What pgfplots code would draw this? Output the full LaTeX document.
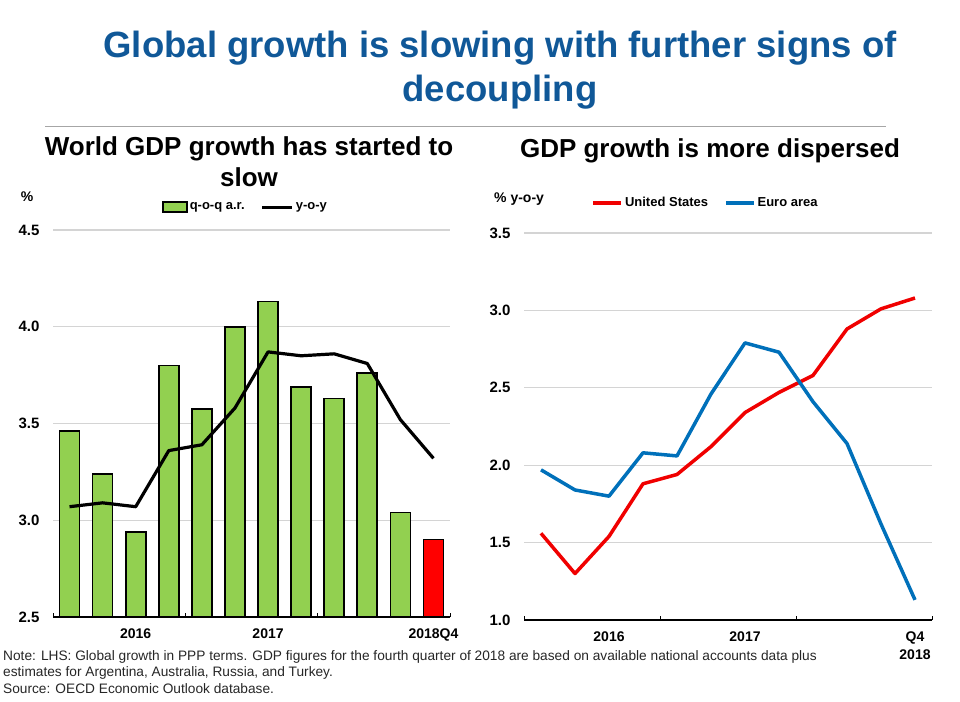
\documentclass[border=0pt]{standalone}
\usepackage{fontspec}
\setmainfont{Liberation Sans}
\usepackage{pgfplots}
\pgfplotsset{compat=1.18}
\definecolor{titleblue}{RGB}{16,88,152}
\definecolor{bargreen}{RGB}{146,208,80}
\definecolor{usred}{RGB}{240,0,0}
\definecolor{eublue}{RGB}{0,112,186}
\definecolor{gridgray}{RGB}{212,212,212}
\pgfplotsset{
  oecd/.style={
    scale only axis,
    height=387pt,
    xmin=0.5, xmax=12.5,
    axis lines*=left,
    y axis line style={draw=none},
    x axis line style={black, line width=1.2pt},
    ytick style={draw=none},
    xtick style={black, line width=1pt},
    tick align=inside,
    major tick length=4pt,
    xtick={0.5,4.5,8.5,12.5},
    xticklabels={},
    ymajorgrids,
    grid style={gridgray, line width=1.3pt},
    /pgf/number format/assume math mode=true,
    yticklabel style={font=\bfseries\fontsize{15}{17}\selectfont, xshift=-10pt,
      /pgf/number format/fixed, /pgf/number format/fixed zerofill, /pgf/number format/precision=1},
    extra x tick style={major tick length=0pt, grid=none,
      tick label style={font=\bfseries\fontsize{14}{18.5}\selectfont, yshift=-8pt, align=center}},
    legend style={draw=none, fill=none, legend columns=2, inner sep=0pt,
      font=\bfseries\fontsize{13}{15}\selectfont,
      /tikz/every even column/.append style={column sep=14pt}},
  }
}
\begin{document}
\begin{tikzpicture}[x=1pt,y=1pt]
\useasboundingbox (0,0) rectangle (960,701);
% titles
\node[text=titleblue, font=\bfseries\fontsize{36.5}{42}\selectfont] at (500,653) {Global growth is slowing with further signs of};
\node[text=titleblue, font=\bfseries\fontsize{36.5}{42}\selectfont] at (500,609) {decoupling};
\draw[gray!70, line width=1pt] (45,574) -- (886,574);
\node[font=\bfseries\fontsize{26}{30}\selectfont] at (249,552) {World GDP growth has started to};
\node[font=\bfseries\fontsize{26}{30}\selectfont] at (249,524) {slow};
\node[font=\bfseries\fontsize{26}{30}\selectfont] at (710,550) {GDP growth is more dispersed};
\node[font=\bfseries\fontsize{14}{16}\selectfont] at (27,504) {\%};
\node[anchor=west, font=\bfseries\fontsize{14}{16}\selectfont, inner sep=0pt] at (494,502) {\% y-o-y};
% notes
\node[anchor=base west, inner sep=0pt, text=black!85, font=\fontsize{13.7}{16}\selectfont] at (3,41) {Note: LHS: Global growth in PPP terms. GDP figures for the fourth quarter of 2018 are based on available national accounts data plus};
\node[anchor=base west, inner sep=0pt, text=black!85, font=\fontsize{13.7}{16}\selectfont] at (3,25) {estimates for Argentina, Australia, Russia, and Turkey.};
\node[anchor=base west, inner sep=0pt, text=black!85, font=\fontsize{13.7}{16}\selectfont] at (3,8) {Source: OECD Economic Outlook database.};

% left chart
\begin{axis}[oecd,
  at={(53pt,84pt)}, anchor=south west,
  width=397pt,
  ymin=2.5, ymax=4.5,
  ytick={2.5,3.0,3.5,4.0,4.5},
  extra x ticks={3,7,12},
  extra x tick labels={2016,2017,2018Q4},
  legend style={at={(0.485,1.059)}, anchor=center},
]
\addplot[ybar, bar width=20pt, bar shift=0pt, fill=bargreen, draw=black, line width=1.6pt,
  legend image code/.code={\draw[fill=bargreen, draw=black, line width=1.6pt] (0pt,-5pt) rectangle (24pt,5pt);}]
  coordinates {(1,3.46) (2,3.24) (3,2.94) (4,3.80) (5,3.575) (6,4.00) (7,4.13) (8,3.69) (9,3.63) (10,3.76) (11,3.04)};
\addlegendentry{q-o-q a.r.}
\addplot[ybar, bar width=20pt, bar shift=0pt, fill=red, draw=black, line width=1.6pt, forget plot]
  coordinates {(12,2.90)};
\addplot[black, line width=3.2pt, line join=round, no marks,
  legend image code/.code={\draw[black, line width=3.2pt] (0pt,0pt) -- (30pt,0pt);}]
  coordinates {(1,3.07) (2,3.09) (3,3.07) (4,3.36) (5,3.39) (6,3.58) (7,3.87) (8,3.85) (9,3.86) (10,3.81) (11,3.52) (12,3.32)};
\addlegendentry{y-o-y}
\end{axis}

% right chart
\begin{axis}[oecd,
  at={(524pt,81pt)}, anchor=south west,
  width=408pt,
  ymin=1.0, ymax=3.5,
  ytick={1.0,1.5,2.0,2.5,3.0,3.5},
  extra x ticks={3,7,12},
  extra x tick labels={2016,2017,Q4\\2018},
  legend style={at={(0.445,1.078)}, anchor=center},
]
\addplot[usred, line width=3.5pt, line join=round, no marks,
  legend image code/.code={\draw[usred, line width=3.5pt] (0pt,0pt) -- (28pt,0pt);}]
  coordinates {(1,1.56) (2,1.30) (3,1.54) (4,1.88) (5,1.94) (6,2.12) (7,2.34) (8,2.47) (9,2.58) (10,2.88) (11,3.01) (12,3.08)};
\addlegendentry{United States}
\addplot[eublue, line width=3.5pt, line join=round, no marks,
  legend image code/.code={\draw[eublue, line width=3.5pt] (0pt,0pt) -- (28pt,0pt);}]
  coordinates {(1,1.97) (2,1.84) (3,1.80) (4,2.08) (5,2.06) (6,2.46) (7,2.79) (8,2.73) (9,2.41) (10,2.14) (11,1.62) (12,1.13)};
\addlegendentry{Euro area}
\end{axis}
\end{tikzpicture}
\end{document}
